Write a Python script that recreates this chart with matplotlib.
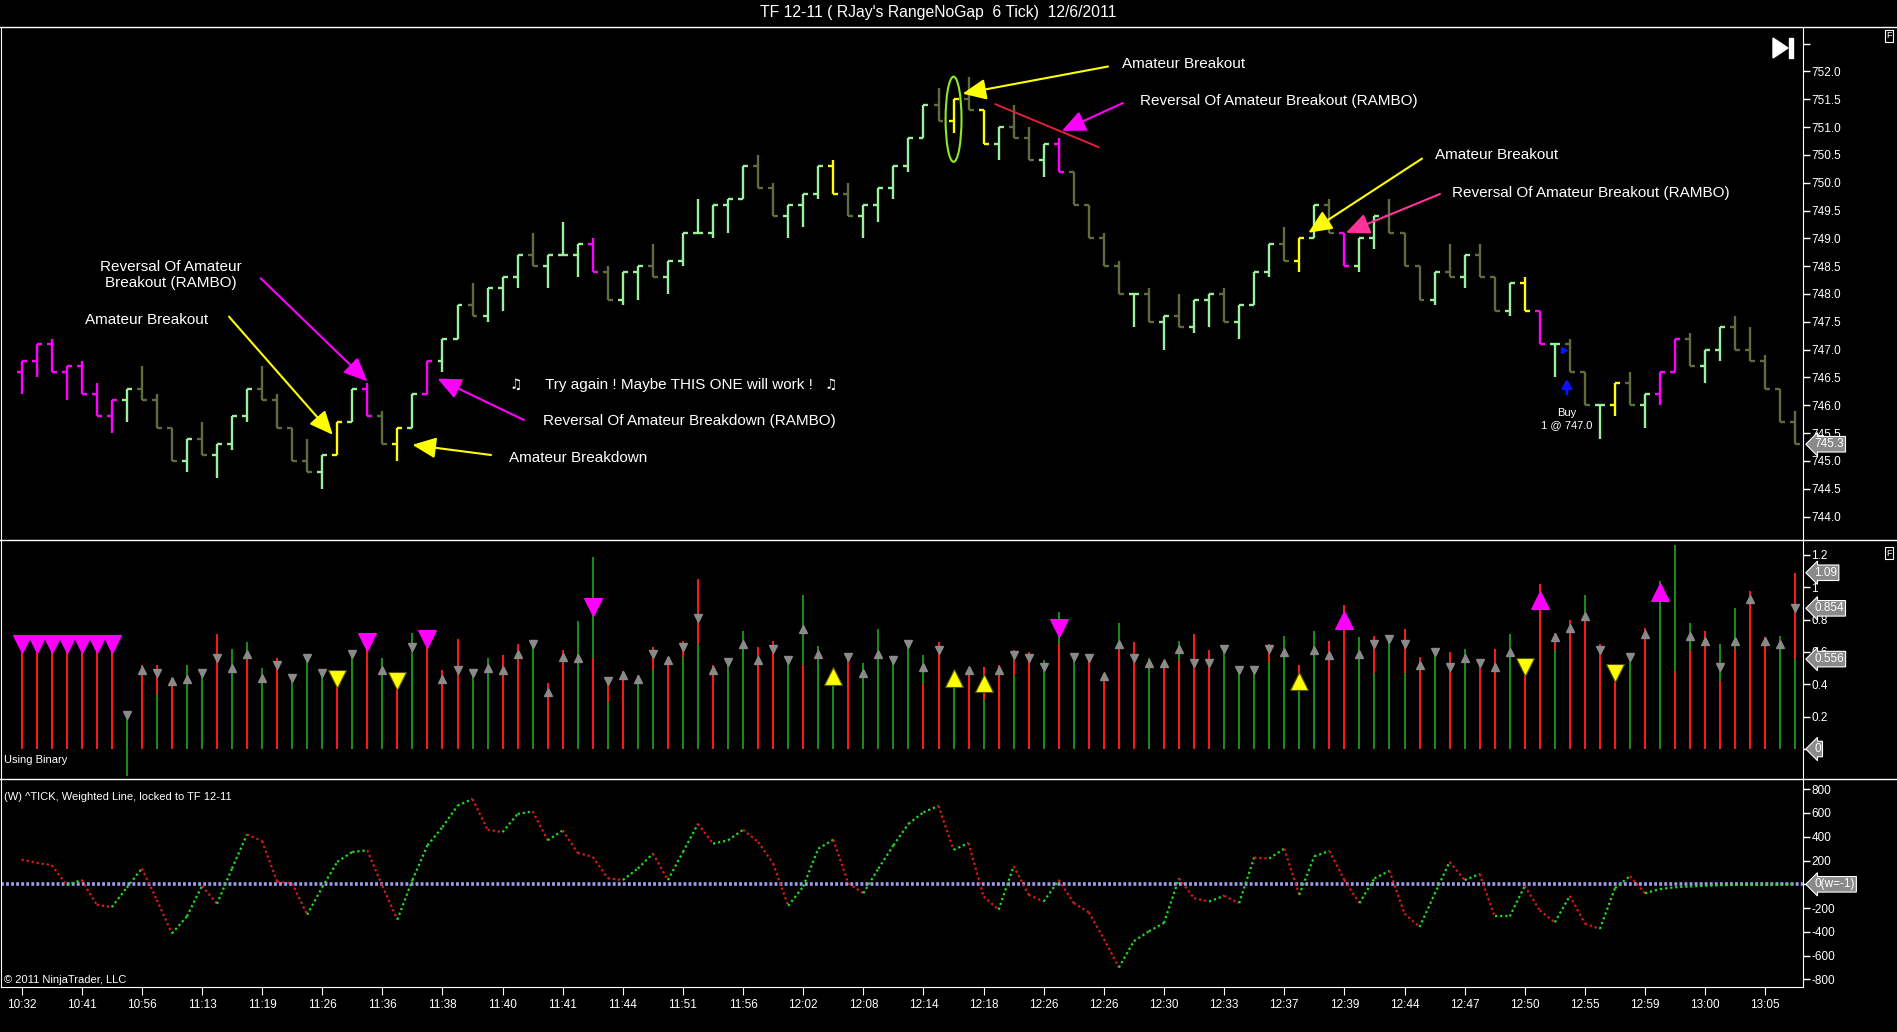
import numpy as np
import matplotlib
matplotlib.use('Agg')
import matplotlib.pyplot as plt
from matplotlib import font_manager
from matplotlib.lines import Line2D
from matplotlib.patches import Ellipse, Polygon, Rectangle
import matplotlib.transforms as mtransforms

W, H = 1897, 1032

names = {f.name for f in font_manager.fontManager.ttflist}
axis_font = 'Liberation Sans Narrow' if 'Liberation Sans Narrow' in names else 'Liberation Sans'
plt.rcParams['font.family'] = ['Liberation Sans', 'DejaVu Sans']

title = "TF 12-11 ( RJay's RangeNoGap  6 Tick)  12/6/2011"
time_labels = ['10:32', '10:41', '10:56', '11:13', '11:19', '11:26', '11:36', '11:38', '11:40', '11:41',
               '11:44', '11:51', '11:56', '12:02', '12:08', '12:14', '12:18', '12:26', '12:26', '12:30',
               '12:33', '12:37', '12:39', '12:44', '12:47', '12:50', '12:55', '12:59', '13:00', '13:05']
label_every = 4

# range bars, 6 ticks each
bar_range = 0.6
first_open = 746.6
highs = [746.8, 747.1, 747.2, 746.7, 746.8, 746.4, 746.1, 746.3, 746.7, 746.2,
         745.6, 745.4, 745.7, 745.3, 745.8, 746.3, 746.7, 746.2, 745.6, 745.4,
         745.1, 745.7, 746.3, 746.4, 745.9, 745.6, 746.2, 746.8, 747.2, 747.8,
         748.2, 748.1, 748.3, 748.7, 749.1, 748.7, 749.3, 748.9, 749.0, 748.5,
         748.4, 748.5, 748.9, 748.6, 749.1, 749.7, 749.6, 749.7, 750.3, 750.5,
         750.0, 749.6, 749.8, 750.3, 750.4, 750.0, 749.6, 749.9, 750.3, 750.8,
         751.4, 751.7, 751.5, 751.9, 751.3, 751.0, 751.4, 751.0, 750.7, 750.8,
         750.2, 749.6, 749.1, 748.6, 748.0, 748.1, 747.6, 748.0, 747.9, 748.0,
         748.1, 747.8, 748.4, 748.9, 749.2, 749.0, 749.6, 749.7, 749.1, 749.0,
         749.4, 749.7, 749.1, 748.5, 748.4, 748.9, 748.7, 748.9, 748.3, 748.2,
         748.3, 747.7, 747.1, 747.2, 746.6, 746.0, 746.4, 746.6, 746.2, 746.6,
         747.2, 747.3, 747.0, 747.4, 747.6, 747.4, 746.9, 746.3, 745.9]
# u = close at high, d = close at low
close_side = ("uududduudd" "duduuudddd" "uuudduuuuu" "duuudududd" "uuduuduuud"
              "duuudduuuu" "ududduddud" "ddddududuu" "duuuduuddu" "udddududdu"
              "ddudduuduu" "uduuddddd")
# m magenta, y yellow, g light green, o olive
bar_colors = ("mmmmmmmgoo" "ogogggoooo" "gygmoygmgg" "ogggogggmo" "ggoggggggo"
              "ogggyogggg" "goyoygoogm" "oooogogogg" "ogggoygomg" "gooogogoog"
              "ymgoogyogm" "moggooooo")

# "Using Binary" panel
bin_top = [0.66, 0.66, 0.66, 0.66, 0.66, 0.66, 0.66, 0.20, 0.52, 0.52,
           0.44, 0.52, 0.48, 0.71, 0.62, 0.66, 0.50, 0.56, 0.46, 0.57,
           0.47, 0.46, 0.61, 0.72, 0.56, 0.42, 0.72, 0.71, 0.49, 0.68,
           0.48, 0.56, 0.58, 0.65, 0.66, 0.41, 0.61, 0.79, 1.19, 0.44,
           0.48, 0.46, 0.63, 0.57, 0.67, 1.05, 0.52, 0.55, 0.73, 0.63,
           0.67, 0.56, 0.95, 0.64, 0.47, 0.58, 0.53, 0.74, 0.56, 0.66,
           0.58, 0.66, 0.47, 0.49, 0.51, 0.52, 0.61, 0.60, 0.55, 0.85,
           0.58, 0.57, 0.47, 0.78, 0.66, 0.56, 0.54, 0.67, 0.71, 0.61,
           0.63, 0.51, 0.51, 0.65, 0.70, 0.52, 0.73, 0.67, 0.89, 0.69,
           0.70, 0.69, 0.74, 0.57, 0.61, 0.60, 0.62, 0.54, 0.62, 0.71,
           0.51, 1.02, 0.72, 0.80, 0.95, 0.65, 0.43, 0.59, 0.75, 1.04,
           1.26, 0.78, 0.73, 0.65, 0.87, 0.98, 0.69, 0.70, 1.09]
bin_color = ("rrrrrrrgrr" "rggrgggrgg" "grgrgrgrrr" "ggrrgrrggr" "rgrrrrrggr"
             "rggggrgggg" "grgrrrrrgg" "grrgrgrgrr" "gggrgrgrrg" "rgrrgrgrrg"
             "rrrrgrrgrg" "ggrggrrgr")
bin_split = {9: 0.34, 15: 0.58, 38: 0.56, 39: 0.29, 42: 0.49, 44: 0.57, 45: 0.65, 52: 0.52,
             60: 0.40, 64: 0.30, 66: 0.46, 69: 0.65, 73: 0.61, 77: 0.55, 83: 0.54, 85: 0.38,
             90: 0.47, 92: 0.47, 102: 0.61, 104: 0.79, 110: 0.48, 111: 0.61, 113: 0.42,
             114: 0.62, 118: 0.556}
bin_below = {7: -0.17}
sig_val = [0.65, 0.65, 0.65, 0.65, 0.65, 0.65, 0.65, 0.21, 0.49, 0.47,
           0.42, 0.43, 0.47, 0.56, 0.50, 0.59, 0.44, 0.52, 0.44, 0.56,
           0.47, 0.43, 0.59, 0.66, 0.49, 0.42, 0.63, 0.68, 0.43, 0.49,
           0.47, 0.50, 0.49, 0.59, 0.65, 0.35, 0.57, 0.56, 0.88, 0.42,
           0.46, 0.43, 0.59, 0.55, 0.63, 0.81, 0.49, 0.54, 0.65, 0.55,
           0.62, 0.55, 0.74, 0.59, 0.45, 0.57, 0.47, 0.59, 0.55, 0.65,
           0.51, 0.61, 0.44, 0.49, 0.41, 0.49, 0.58, 0.56, 0.51, 0.75,
           0.57, 0.56, 0.45, 0.65, 0.56, 0.53, 0.53, 0.62, 0.53, 0.53,
           0.62, 0.49, 0.49, 0.62, 0.60, 0.42, 0.61, 0.58, 0.80, 0.59,
           0.65, 0.68, 0.65, 0.52, 0.60, 0.51, 0.56, 0.53, 0.51, 0.60,
           0.51, 0.92, 0.69, 0.75, 0.82, 0.61, 0.47, 0.57, 0.71, 0.97,
           np.nan, 0.70, 0.67, 0.51, 0.67, 0.93, 0.67, 0.65, 0.87]
sig_dir = ("ddddddddud" "uudduuuddd" "ddddudddud" "duuuduuudd" "uududduduu"
           "dduuuduudd" "uduuuudddd" "dduuduuudd" "dddduuuuuu" "dddudduduu"
           "duuuuddduu" "uuuduuuud")
sig_magenta = [0, 1, 2, 3, 4, 5, 6, 23, 27, 38, 69, 88, 101, 109]
sig_yellow = [21, 25, 54, 62, 64, 85, 100, 106]

# ^TICK weighted line
tick_vals = [208, 181, 161, -6, 36, -172, -192, -28, 133, -131,
             -414, -270, -14, -164, 133, 420, 364, 22, 8, -256,
             -25, 189, 272, 286, -14, -297, 36, 328, 481, 662,
             717, 459, 439, 592, 614, 370, 453, 264, 231, 50,
             36, 133, 259, 36, 272, 509, 342, 370, 459, 356,
             175, -181, -19, 300, 375, 8, -75, 133, 328, 509,
             606, 660, 290, 347, -103, -214, 153, -89, -145, 36,
             -158, -236, -459, -700, -478, -395, -325, 50, -117, -145,
             -97, -158, 225, 217, 300, -89, 236, 281, 36, -158,
             50, 114, -247, -359, -83, 189, 36, 86, -270, -270,
             -14, -220, -320, -97, -331, -375, -33, 69, -75, -40,
             -25, -18, -12, -8, -5, -3, -2, -1, -1]

price_col = {'m': '#ff00ff', 'y': '#ffff00', 'g': '#9cf09c', 'o': '#5f6d3e'}
bin_col = {'r': '#ff1a1a', 'g': '#1a8f1a'}
FG = 'white'


def fp(x, y):
    # pixel position of the reference -> figure fraction
    return (x / W, 1 - y / H)


def style_axis(ax, labelsize=8.5):
    ax.set_facecolor('black')
    for s in ['top', 'bottom']:
        ax.spines[s].set_visible(False)
    ax.spines['left'].set_color(FG)
    ax.spines['right'].set_color(FG)
    ax.yaxis.tick_right()
    ax.tick_params(axis='y', colors=FG, length=5, width=1, labelsize=labelsize, pad=1)
    ax.tick_params(axis='x', bottom=False, labelbottom=False)


fig = plt.figure(figsize=(W / 100, H / 100), dpi=100, facecolor='black')
x_left, x_right = 1, 1803
xlim = ((0 - 20.6) / 15.04, (x_right - 20.6) / 15.04)

ax1 = fig.add_axes([x_left / W, 1 - 540 / H, (x_right - x_left) / W, (540 - 27) / H])
ax2 = fig.add_axes([x_left / W, 1 - 778 / H, (x_right - x_left) / W, (778 - 540) / H])
ax3 = fig.add_axes([x_left / W, 1 - 987 / H, (x_right - x_left) / W, (987 - 779) / H])

n = len(highs)
x = np.arange(n)
hi = np.array(highs)
lo = hi - bar_range
cl = np.where(np.array(list(close_side)) == 'u', hi, lo)
op = np.clip(np.r_[first_open, cl[:-1]], lo, hi)

# ---- price panel
style_axis(ax1)
for k, c in price_col.items():
    idx = np.array([i for i, b in enumerate(bar_colors) if b == k])
    ax1.vlines(x[idx], lo[idx], hi[idx], color=c, lw=1.7)
    ax1.hlines(op[idx], x[idx] - 0.33, x[idx], color=c, lw=1.7)
    ax1.hlines(cl[idx], x[idx], x[idx] + 0.33, color=c, lw=1.7)
ax1.set_xlim(*xlim)
ax1.set_ylim(752 - (540 - 71.4) / 55.65, 752 + (71.4 - 27) / 55.65)
pticks = np.arange(744.0, 752.51, 0.5)
ax1.set_yticks(pticks)
ax1.set_yticklabels([f'{v:.1f}' if v < 752.4 else '' for v in pticks], fontfamily=axis_font)

ann = dict(color=FG, fontsize=11)
yel, mag, pink = '#ffff00', '#ff00ff', '#ff3399'


def arrow(head, tail_px, color):
    ax1.annotate('', xy=head, xycoords='data', xytext=fp(*tail_px), textcoords='figure fraction',
                 arrowprops=dict(arrowstyle='-|>,head_length=0.9,head_width=0.4', mutation_scale=16,
                                 lw=1.5, color=color, shrinkA=0, shrinkB=0))


fig.text(*fp(1122, 64), 'Amateur Breakout', ha='left', va='center', **ann)
arrow((62.6, 751.6), (1108, 66.5), yel)
fig.text(*fp(1140, 101.5), 'Reversal Of Amateur Breakout (RAMBO)', ha='left', va='center', **ann)
arrow((69.2, 750.93), (1123, 103), mag)
ax1.plot([64.79, 71.64], [751.41, 750.64], color='#e0203a', lw=1.4)
ax1.add_patch(Ellipse((62.0, 751.14), 1.06, 1.53, fill=False, ec='#8ee82a', lw=1.5))

fig.text(*fp(1435, 155), 'Amateur Breakout', ha='left', va='center', **ann)
arrow((85.6, 749.10), (1422, 158.6), yel)
fig.text(*fp(1452, 193), 'Reversal Of Amateur Breakout (RAMBO)', ha='left', va='center', **ann)
arrow((88.1, 749.10), (1440, 194), pink)

fig.text(*fp(171, 275), 'Reversal Of Amateur\nBreakout (RAMBO)', ha='center', va='center',
         linespacing=1.25, **ann)
arrow((23.0, 746.43), (260.7, 278.3), mag)
fig.text(*fp(85, 320), 'Amateur Breakout', ha='left', va='center', **ann)
arrow((20.7, 745.47), (229, 316.7), yel)

fig.text(*fp(516, 385), '\u266b', ha='center', va='center', color=FG, fontsize=10,
         family=['DejaVu Sans'])
fig.text(*fp(545, 385), 'Try again ! Maybe THIS ONE will work !', ha='left', va='center', **ann)
fig.text(*fp(831, 385), '\u266b', ha='center', va='center', color=FG, fontsize=10,
         family=['DejaVu Sans'])
fig.text(*fp(543, 421), 'Reversal Of Amateur Breakdown (RAMBO)', ha='left', va='center', **ann)
arrow((27.67, 746.48), (524, 420), mag)
fig.text(*fp(509, 458), 'Amateur Breakdown', ha='left', va='center', **ann)
arrow((26.0, 745.29), (491, 455), yel)

# buy execution
ax1.annotate('', xy=(102.8, 746.47), xytext=(102.8, 746.2),
             arrowprops=dict(arrowstyle='-|>,head_length=0.5,head_width=0.3', mutation_scale=10,
                             lw=2.0, color='#1010ff', shrinkA=0, shrinkB=0))
ax1.plot([102.6], [747.0], marker='>', ms=4, color='#1010ff', ls='none')
ax1.text(102.8, 745.87, 'Buy', ha='center', va='center', color=FG, fontsize=8)
ax1.text(102.8, 745.64, '1 @ 747.0', ha='center', va='center', color=FG, fontsize=8)

# ---- binary panel
style_axis(ax2)
for i in range(n):
    c = bin_col[bin_color[i]]
    other = bin_col['g' if bin_color[i] == 'r' else 'r']
    base = bin_below.get(i, 0.0)
    if i in bin_split:
        ax2.vlines(i, base, bin_split[i], color=other, lw=1.4)
        ax2.vlines(i, bin_split[i], bin_top[i], color=c, lw=1.4)
    else:
        ax2.vlines(i, base, bin_top[i], color=c, lw=1.4)
sv = np.array(sig_val, dtype=float)
sd = np.array(list(sig_dir))
special = set(sig_magenta) | set(sig_yellow)
plain = np.array([i for i in range(n) if i not in special])
for d, m in [('u', '^'), ('d', 'v')]:
    idx = plain[sd[plain] == d]
    ax2.plot(x[idx], sv[idx], ls='none', marker=m, ms=6, color='#8a8a8a', mec='#8a8a8a')
    for group, fc, ec in [(sig_magenta, '#ff00ff', '#ff00ff'), (sig_yellow, '#ffff00', '#555500')]:
        g = np.array([i for i in group if sd[i] == d], dtype=int)
        if len(g):
            ax2.plot(x[g], sv[g], ls='none', marker=m, ms=12.5, color=fc, mec=ec, mew=0.8)
ax2.set_xlim(*xlim)
ax2.set_ylim(-(778 - 749) / 161.7, (749 - 540) / 161.7)
bticks = [0, 0.2, 0.4, 0.6, 0.8, 1.0, 1.2]
ax2.set_yticks(bticks)
ax2.set_yticklabels(['', '0.2', '0.4', '0.6', '0.8', '1', '1.2'], fontfamily=axis_font)
fig.text(*fp(4, 760), 'Using Binary', ha='left', va='center', color=FG, fontsize=8,
         fontfamily=axis_font)

# ---- tick panel
style_axis(ax3)
tv = np.array(tick_vals, dtype=float)
for i in range(n - 1):
    c = '#22dd22' if tv[i + 1] >= tv[i] else '#e01818'
    ax3.plot([x[i], x[i + 1]], [tv[i], tv[i + 1]], color=c, lw=1.6, ls=(0, (1, 1.3)))
ax3.axhline(0, color='#9c9ce8', lw=2.6, ls=(0, (0.8, 0.6)), zorder=0)
ax3.set_xlim(*xlim)
ax3.set_ylim(-864, 886)
tticks = np.arange(-800, 801, 200)
ax3.set_yticks(tticks)
ax3.set_yticklabels([str(v) if v != 0 else '' for v in tticks], fontfamily=axis_font)
ax3.spines['bottom'].set_visible(True)
ax3.spines['bottom'].set_color(FG)
pos = np.arange(0, len(time_labels) * label_every, label_every)
ax3.set_xticks(pos)
ax3.set_xticklabels(time_labels, fontfamily=axis_font)
ax3.tick_params(axis='x', bottom=True, labelbottom=True, colors=FG, length=6, labelsize=8.5, pad=3)
fig.text(*fp(4, 797), '(W) ^TICK, Weighted Line, locked to TF 12-11', ha='left', va='center',
         color=FG, fontsize=8, fontfamily=axis_font)
fig.text(*fp(4, 980), '\u00a9 2011 NinjaTrader, LLC', ha='left', va='center', color=FG,
         fontsize=8, fontfamily=axis_font)

# value boxes on the right axis
box = dict(boxstyle='larrow,pad=0.15', fc='#8a8a8a', ec=FG, lw=0.8)


def value_box(ax, v, txt):
    tr = mtransforms.blended_transform_factory(ax.transAxes, ax.transData)
    ax.annotate(txt, xy=(1, v), xycoords=tr, xytext=(8, 0), textcoords='offset points',
                ha='left', va='center', color=FG, fontsize=8.5, fontfamily=axis_font,
                bbox=box, annotation_clip=False, zorder=5)


value_box(ax1, cl[-1], f'{cl[-1]:.1f}')
value_box(ax2, bin_top[-1], f'{bin_top[-1]:.2f}')
value_box(ax2, sig_val[-1], '0.854')
value_box(ax2, bin_split[n - 1], '0.556')
value_box(ax2, 0, '0')
value_box(ax3, 0, '0(w=-1)')

# frame lines across the full width
for yy in [27, 540, 778.5]:
    fig.add_artist(Line2D([0, 1], [1 - yy / H] * 2, transform=fig.transFigure, color=FG, lw=1))

fig.text(*fp(938, 13), title, ha='center', va='center', color=FG, fontsize=11.3)

# play-to-end icon and F boxes
fig.add_artist(Polygon([fp(1773, 38), fp(1773, 58), fp(1788, 48)], closed=True,
                       transform=fig.transFigure, fc=FG, ec=FG))
fig.add_artist(Rectangle(fp(1789, 58), 4 / W, 20 / H, transform=fig.transFigure, fc=FG, ec=FG))
for yy in [36, 553]:
    fig.text(*fp(1889, yy), 'F', ha='center', va='center', color=FG, fontsize=6.5,
             fontfamily=axis_font,
             bbox=dict(boxstyle='square,pad=0.15', fc='black', ec=FG, lw=0.8))

fig.savefig('out.png', dpi=100, facecolor='black')
